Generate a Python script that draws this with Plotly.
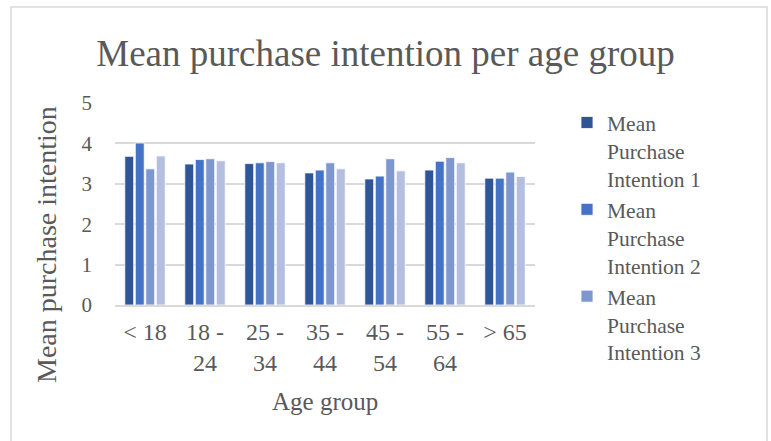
import plotly.graph_objects as go

# Age groups on the category axis (line breaks as they wrap under each group)
age_groups = ["< 18", "18 -<br>24", "25 -<br>34", "35 -<br>44", "45 -<br>54", "55 -<br>64", "> 65"]

# Mean purchase intention per age group, one list per series
intention_1 = [3.68, 3.49, 3.50, 3.27, 3.12, 3.34, 3.14]
intention_2 = [4.01, 3.60, 3.52, 3.34, 3.19, 3.56, 3.14]
intention_3 = [3.37, 3.62, 3.55, 3.52, 3.62, 3.65, 3.29]
intention_4 = [3.69, 3.57, 3.52, 3.37, 3.32, 3.52, 3.18]

series_names = ["Mean<br>Purchase<br>Intention 1",
                "Mean<br>Purchase<br>Intention 2",
                "Mean<br>Purchase<br>Intention 3",
                "Mean<br>Purchase<br>Intention 4"]
series_values = [intention_1, intention_2, intention_3, intention_4]
series_colors = ["#2F5597", "#4472C4", "#7F97D1", "#B4BEDF"]
in_legend = [True, True, True, False]

FONT = "Liberation Serif, Times New Roman, serif"
GREY = "#595959"

W, H = 771, 441
L, R, T, B = 115, 236, 103, 136
pw, ph = W - L - R, H - T - B

fig = go.Figure()
for name, vals, col, show in zip(series_names, series_values, series_colors, in_legend):
    fig.add_trace(go.Bar(
        x=age_groups, y=vals, name=name, showlegend=show,
        marker=dict(color=col, line=dict(color="white", width=0.8)),
    ))

def px_x(p):
    return (p - L) / pw

def px_y(p):
    return (H - B - p) / ph

fig.update_layout(
    width=W, height=H,
    margin=dict(l=L, r=R, t=T, b=B),
    paper_bgcolor="white", plot_bgcolor="white",
    font=dict(family=FONT, color=GREY, size=21),
    barmode="group", bargap=0.3, bargroupgap=0.15,
    title=dict(text="Mean purchase intention per age group",
               font=dict(family=FONT, size=37, color=GREY),
               x=0.5, xref="container", xanchor="center",
               y=1 - 53 / H, yanchor="middle"),
    xaxis=dict(showgrid=False, showline=True, linecolor="#D9D9D9", linewidth=1.5,
               tickfont=dict(size=24, color=GREY), ticklabelstandoff=4),
    yaxis=dict(range=[0, 5], dtick=1, showgrid=True, gridcolor="#D9D9D9", gridwidth=1.5,
               zeroline=False, showline=False,
               tickfont=dict(size=21, color=GREY), ticklabelstandoff=22),
    legend=dict(x=px_x(567), xanchor="left", y=px_y(102), yanchor="top",
                font=dict(size=21.5, color=GREY), valign="top",
                tracegroupgap=0, itemwidth=30, maxheight=340),
    annotations=[
        dict(text="Age group", xref="paper", yref="paper",
             x=px_x(325), y=px_y(401), showarrow=False,
             font=dict(size=25, color=GREY), xanchor="center", yanchor="middle"),
        dict(text="Mean purchase intention", xref="paper", yref="paper",
             x=px_x(46), y=px_y(245), showarrow=False, textangle=-90,
             font=dict(size=28, color=GREY), xanchor="center", yanchor="middle"),
    ],
    shapes=[dict(type="rect", xref="paper", yref="paper",
                 x0=px_x(11), x1=px_x(767), y0=px_y(445), y1=px_y(7),
                 line=dict(color="#D9D9D9", width=1.5), fillcolor="rgba(0,0,0,0)",
                 layer="below")],
)

fig.write_html("out.html")
